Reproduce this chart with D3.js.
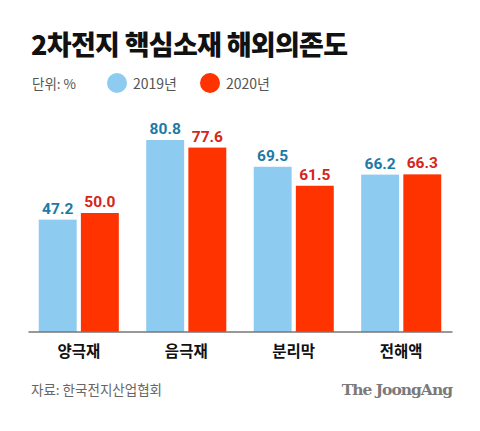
<!DOCTYPE html>
<html>
<head>
<meta charset="utf-8">
<script src="https://cdn.jsdelivr.net/npm/d3@7"></script>
<style>
body { margin: 0; background: #fff; }
svg { display: block; font-family: "Noto Sans CJK KR", "Noto Sans", sans-serif; }
</style>
</head>
<body>
<script>
// data
var categories = ["양극재", "음극재", "분리막", "전해액"];
var years = ["2019년", "2020년"];
var values2019 = [47.2, 80.8, 69.5, 66.2];
var values2020 = [50.0, 77.6, 61.5, 66.3];

var barColors = ["#8ecbf0", "#ff3300"];
var labelColors = ["#1b7aa6", "#d4261a"];

var width = 480, height = 431;
var svg = d3.select("body").append("svg")
	.attr("width", width)
	.attr("height", height);

// title
svg.append("text")
	.attr("x", 31)
	.attr("y", 55)
	.attr("font-size", 27)
	.attr("font-weight", 900)
	.attr("letter-spacing", -0.7)
	.attr("fill", "#111")
	.text("2차전지 핵심소재 해외의존도");

// unit + legend
svg.append("text")
	.attr("x", 32)
	.attr("y", 89)
	.attr("font-size", 13.5)
	.attr("fill", "#555")
	.text("단위: %");

var legendX = [117, 210];
years.forEach(function(y, i){
	svg.append("circle")
		.attr("cx", legendX[i])
		.attr("cy", 83)
		.attr("r", 10)
		.attr("fill", barColors[i]);
	svg.append("text")
		.attr("x", legendX[i] + 16)
		.attr("y", 89)
		.attr("font-size", 14)
		.attr("fill", "#555")
		.text(y);
});

// scales
var x0 = d3.scaleBand()
	.domain(categories)
	.range([28, 452])
	.paddingInner(0.255)
	.paddingOuter(0.1);

var x1 = d3.scaleBand()
	.domain(years)
	.range([0, x0.bandwidth()])
	.paddingInner(0.1);

var y = d3.scaleLinear()
	.domain([0, 100])
	.range([331.5, 94.5]);

var rows = [];
categories.forEach(function(c, i){
	rows.push({cat: c, year: years[0], v: values2019[i], k: 0});
	rows.push({cat: c, year: years[1], v: values2020[i], k: 1});
});

var bars = svg.append("g");
bars.selectAll("rect")
	.data(rows)
	.enter().append("rect")
	.attr("x", function(d){ return x0(d.cat) + x1(d.year); })
	.attr("y", function(d){ return y(d.v); })
	.attr("width", x1.bandwidth())
	.attr("height", function(d){ return y(0) - y(d.v); })
	.attr("fill", function(d){ return barColors[d.k]; });

bars.selectAll("text")
	.data(rows)
	.enter().append("text")
	.attr("x", function(d){ return x0(d.cat) + x1(d.year) + x1.bandwidth() / 2; })
	.attr("y", function(d){ return y(d.v) - 6; })
	.attr("text-anchor", "middle")
	.attr("font-family", "Roboto, 'Noto Sans', sans-serif")
	.attr("font-size", 15.5)
	.attr("font-weight", 700)
	.attr("fill", function(d){ return labelColors[d.k]; })
	.text(function(d){ return d.v.toFixed(1); });

// baseline + category axis
var axis = svg.append("g")
	.attr("transform", "translate(0," + y(0) + ")")
	.call(d3.axisBottom(x0).tickSize(0).tickPadding(14));
axis.select(".domain").attr("stroke", "#333").attr("stroke-width", 1.2);
axis.selectAll("text")
	.attr("font-family", "'Noto Sans CJK KR', sans-serif")
	.attr("font-size", 15.5)
	.attr("font-weight", 700)
	.attr("fill", "#111");

// footer
svg.append("text")
	.attr("x", 31)
	.attr("y", 395)
	.attr("font-size", 13.5)
	.attr("fill", "#666")
	.text("자료: 한국전지산업협회");

svg.append("text")
	.attr("x", 452)
	.attr("y", 395)
	.attr("text-anchor", "end")
	.attr("font-family", "'DejaVu Serif', 'Liberation Serif', serif")
	.attr("font-size", 15.5)
	.attr("font-weight", 700)
	.attr("letter-spacing", -1)
	.attr("fill", "#7a7a7a")
	.text("The JoongAng");
</script>
</body>
</html>
